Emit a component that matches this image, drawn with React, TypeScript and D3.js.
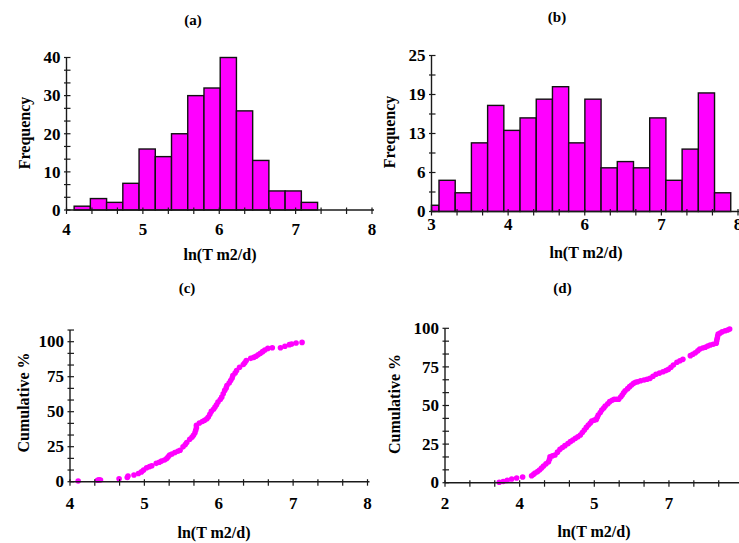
import React from "react";
import * as d3 from "d3";

// ---------- data ----------
// (a) histogram
const countsA = [1, 3, 2, 7, 16, 14, 20, 30, 32, 40, 26, 13, 5, 5, 2];
const binStartA = 4.1;
const binWidthA = 0.2125;
// (b) histogram
const countsB = [1, 5, 3, 11, 17, 13, 15, 18, 20, 11, 18, 7, 8, 7, 15, 5, 10, 19, 3];
const binStartB = 2.858;
const binWidthB = 0.2644;

// tick values & labels
const xTicksA = [4, 5, 6, 7, 8];
const xLabelsA = ["4", "5", "6", "7", "8"];
const yTicksA = [0, 10, 20, 30, 40];
const yLabelsA = ["0", "10", "20", "30", "40"];
const xTicksB = [3, 4.25, 5.5, 6.75, 8];
const xLabelsB = ["3", "4", "6", "7", "8"];
const yTicksB = [0, 6.25, 12.5, 18.75, 25];
const yLabelsB = ["0", "6", "13", "19", "25"];
const xTicksC = [4, 5, 6, 7, 8];
const xLabelsC = ["4", "5", "6", "7", "8"];
const yTicksC = [0, 25, 50, 75, 100];
const yLabelsC = ["0", "25", "50", "75", "100"];
const xTicksD = [2, 3.5, 5, 6.5, 8];
const xLabelsD = ["2", "4", "5", "7"];
const yTicksD = [0, 25, 50, 75, 100];
const yLabelsD = ["0", "25", "50", "75", "100"];

// (c) cumulative curve
const cumXC = [4.11, 4.37, 4.39, 4.41, 4.66, 4.77, 4.78, 4.86, 4.92, 4.96, 4.99, 5.03, 5.07, 5.1, 5.16, 5.2, 5.23, 5.27, 5.3, 5.32, 5.34, 5.37, 5.41, 5.45, 5.48, 5.52, 5.55, 5.57, 5.61, 5.64, 5.66, 5.68, 5.69, 5.7, 5.7, 5.74, 5.78, 5.81, 5.84, 5.86, 5.88, 5.9, 5.93, 5.95, 5.97, 5.99, 6.02, 6.04, 6.06, 6.08, 6.1, 6.11, 6.14, 6.16, 6.18, 6.19, 6.22, 6.24, 6.28, 6.33, 6.35, 6.37, 6.43, 6.47, 6.5, 6.53, 6.56, 6.59, 6.62, 6.66, 6.72, 6.83, 6.89, 6.95, 6.98, 7.04, 7.12];
const cumYC = [0.5, 1.0, 1.4, 1.2, 2.1, 3.0, 4.0, 4.8, 5.9, 7.0, 8.3, 10.0, 10.8, 11.4, 13.1, 13.9, 14.7, 15.5, 16.6, 17.8, 19.0, 19.8, 20.9, 21.8, 22.5, 24.9, 26.5, 28.0, 30.3, 31.8, 33.2, 35.0, 36.8, 38.6, 40.3, 41.9, 43.0, 43.9, 45.0, 46.2, 48.2, 50.2, 51.8, 53.3, 55.0, 56.9, 58.7, 60.4, 62.8, 65.2, 67.0, 68.7, 70.5, 72.3, 74.0, 75.8, 77.6, 79.4, 81.7, 83.7, 85.0, 86.5, 88.1, 88.8, 89.6, 90.6, 91.7, 92.9, 94.1, 95.2, 95.7, 95.7, 96.7, 97.9, 98.4, 99.1, 99.5];

// (d) cumulative curve
const cumXD = [3.09, 3.17, 3.25, 3.34, 3.44, 3.56, 3.74, 3.78, 3.81, 3.86, 3.9, 3.94, 3.98, 4.03, 4.08, 4.1, 4.11, 4.16, 4.21, 4.26, 4.31, 4.36, 4.41, 4.47, 4.52, 4.57, 4.62, 4.67, 4.72, 4.76, 4.8, 4.84, 4.88, 4.92, 4.95, 5.0, 5.04, 5.06, 5.08, 5.12, 5.15, 5.19, 5.22, 5.27, 5.31, 5.36, 5.4, 5.45, 5.49, 5.53, 5.56, 5.59, 5.62, 5.67, 5.71, 5.75, 5.79, 5.83, 5.87, 5.93, 6.0, 6.06, 6.12, 6.18, 6.24, 6.31, 6.38, 6.44, 6.49, 6.54, 6.59, 6.66, 6.72, 6.78, 6.93, 6.98, 7.03, 7.08, 7.12, 7.18, 7.23, 7.28, 7.33, 7.39, 7.45, 7.46, 7.47, 7.48, 7.49, 7.53, 7.57, 7.63, 7.68, 7.72];
const cumYD = [0.3, 0.8, 1.5, 2.4, 3.0, 3.7, 4.5, 5.4, 6.3, 7.2, 8.2, 9.5, 10.8, 12.2, 13.6, 15.2, 16.8, 17.4, 17.9, 19.8, 21.6, 22.8, 24.0, 25.3, 26.6, 27.7, 28.8, 29.8, 30.9, 32.5, 34.1, 35.8, 37.4, 38.7, 40.0, 40.5, 41.0, 42.4, 43.8, 45.5, 47.1, 48.4, 49.7, 51.1, 52.5, 53.4, 54.0, 54.0, 54.0, 55.5, 56.8, 58.2, 59.6, 60.9, 62.2, 63.3, 64.4, 65.0, 65.4, 66.0, 66.5, 67.0, 67.6, 68.9, 70.2, 71.0, 71.9, 72.6, 73.4, 74.8, 76.2, 78.0, 79.0, 79.9, 82.3, 83.2, 84.2, 85.4, 86.6, 87.2, 87.7, 88.5, 89.2, 89.7, 90.3, 92.0, 93.5, 95.0, 96.3, 97.0, 97.8, 98.4, 98.9, 99.5];

// ---------- drawing ----------
const FONT = "'Liberation Serif', 'Times New Roman', Times, serif";
const MAGENTA = "#ff00ff";
const AXIS = "#1a1a1a";

function minorTicks(major: number[], sub: number, extra = 0): number[] {
  const out: number[] = [];
  for (let i = 0; i < major.length - 1; i++) {
    const step = (major[i + 1] - major[i]) / sub;
    for (let k = 0; k < sub; k++) out.push(major[i] + k * step);
  }
  const last = major[major.length - 1];
  out.push(last);
  const lastStep = (major[major.length - 1] - major[major.length - 2]) / sub;
  for (let k = 1; k <= extra; k++) out.push(last + k * lastStep);
  return out;
}

type AxesProps = {
  x: d3.ScaleLinear<number, number>;
  y: d3.ScaleLinear<number, number>;
  xTicks: number[];
  xLabels: string[];
  yTicks: number[];
  yLabels: string[];
  xSub: number;
  ySub: number;
  yExtra?: number;
  xLabelDy: number;
};

function Axes({ x, y, xTicks, xLabels, yTicks, yLabels, xSub, ySub, yExtra = 0, xLabelDy }: AxesProps) {
  const x0 = x.range()[0];
  const y0 = y.range()[0];
  const xMinor = minorTicks(xTicks, xSub);
  const yMinor = minorTicks(yTicks, ySub, yExtra);
  const yTop = y(yMinor[yMinor.length - 1]);
  const xEnd = x(xTicks[xTicks.length - 1]);
  return (
    <g>
      <line x1={x0} x2={xEnd + 2} y1={y0} y2={y0} stroke={AXIS} strokeWidth={1.4} />
      <line x1={x0} x2={x0} y1={y0} y2={yTop} stroke={AXIS} strokeWidth={1.4} />
      {xMinor.map((v, i) => (
        <line key={"xt" + i} x1={x(v)} x2={x(v)} y1={y0 - 2.5} y2={y0 + 4} stroke={AXIS} strokeWidth={1.2} />
      ))}
      {yMinor.map((v, i) => (
        <line key={"yt" + i} x1={x0 - 2.5} x2={x0 + 4} y1={y(v)} y2={y(v)} stroke={AXIS} strokeWidth={1.2} />
      ))}
      {xTicks.map((v, i) =>
        xLabels[i] === undefined ? null : (
          <text key={"xl" + i} x={x(v)} y={y0 + xLabelDy} textAnchor="middle" fontSize={17} fontWeight="bold" fontFamily={FONT}>
            {xLabels[i]}
          </text>
        )
      )}
      {yTicks.map((v, i) => (
        <text key={"yl" + i} x={x0 - 6} y={y(v)} dy="0.34em" textAnchor="end" fontSize={17} fontWeight="bold" fontFamily={FONT}>
          {yLabels[i]}
        </text>
      ))}
    </g>
  );
}

function Titles({ title, tx, ty, xTitle, xtx, xty, yTitle, ytx, yty }: any) {
  return (
    <g fontFamily={FONT} fontWeight="bold">
      <text x={tx} y={ty} dy="0.34em" textAnchor="middle" fontSize={15}>{title}</text>
      <text x={xtx} y={xty} dy="0.34em" textAnchor="middle" fontSize={16}>{xTitle}</text>
      <text transform={`translate(${ytx},${yty}) rotate(-90)`} dy="0.34em" textAnchor="middle" fontSize={16}>{yTitle}</text>
    </g>
  );
}

function Histogram({ counts, start, width, x, y }: any) {
  const [dmin] = x.domain();
  return (
    <g>
      {counts.map((c: number, i: number) => {
        const a = Math.max(start + i * width, dmin);
        const b = start + (i + 1) * width;
        return (
          <rect key={i} x={x(a)} y={y(c)} width={x(b) - x(a)} height={y(0) - y(c)} fill={MAGENTA} stroke="#111" strokeWidth={1.4} />
        );
      })}
    </g>
  );
}

function Dots({ xs, ys, x, y }: any) {
  return (
    <g>
      {xs.map((v: number, i: number) => (
        <circle key={i} cx={x(v)} cy={y(ys[i])} r={2.8} fill={MAGENTA} />
      ))}
    </g>
  );
}

export default function App() {
  const xA = d3.scaleLinear().domain([4, 8]).range([66.5, 372]);
  const yA = d3.scaleLinear().domain([0, 40]).range([210, 57.5]);
  const xB = d3.scaleLinear().domain([3, 8]).range([431.5, 738]);
  const yB = d3.scaleLinear().domain([0, 25]).range([211.5, 55.5]);
  const xC = d3.scaleLinear().domain([4, 8]).range([70, 367.5]);
  const yC = d3.scaleLinear().domain([0, 100]).range([481.7, 341.7]);
  const xD = d3.scaleLinear().domain([2, 8]).range([445, 743.6]);
  const yD = d3.scaleLinear().domain([0, 100]).range([482.7, 328.3]);

  return (
    <svg width={739} height={543} style={{ position: "absolute", left: 0, top: 0, background: "#fff" }}>
      <rect x={0} y={0} width={739} height={543} fill="#fff" />
      {/* (a) */}
      <Histogram counts={countsA} start={binStartA} width={binWidthA} x={xA} y={yA} />
      <Axes x={xA} y={yA} xTicks={xTicksA} xLabels={xLabelsA} yTicks={yTicksA} yLabels={yLabelsA} xSub={3} ySub={3} xLabelDy={25} />
      <Titles title="(a)" tx={193} ty={20} xTitle="ln(T m2/d)" xtx={220} xty={255} yTitle="Frequency" ytx={25} yty={133} />

      {/* (b) */}
      <Histogram counts={countsB} start={binStartB} width={binWidthB} x={xB} y={yB} />
      <Axes x={xB} y={yB} xTicks={xTicksB} xLabels={xLabelsB} yTicks={yTicksB} yLabels={yLabelsB} xSub={3} ySub={2} xLabelDy={18} />
      <Titles title="(b)" tx={557} ty={17} xTitle="ln(T m2/d)" xtx={586} xty={253} yTitle="Frequency" ytx={390} yty={132} />

      {/* (c) */}
      <Dots xs={cumXC} ys={cumYC} x={xC} y={yC} />
      <Axes x={xC} y={yC} xTicks={xTicksC} xLabels={xLabelsC} yTicks={yTicksC} yLabels={yLabelsC} xSub={3} ySub={3} yExtra={1} xLabelDy={27} />
      <Titles title="(c)" tx={187} ty={287.5} xTitle="ln(T m2/d)" xtx={214} xty={533} yTitle="Cumulative %" ytx={23.5} yty={402.5} />

      {/* (d) */}
      <Dots xs={cumXD} ys={cumYD} x={xD} y={yD} />
      <Axes x={xD} y={yD} xTicks={xTicksD} xLabels={xLabelsD} yTicks={yTicksD} yLabels={yLabelsD} xSub={3} ySub={3} xLabelDy={26.5} />
      <Titles title="(d)" tx={562.5} ty={288} xTitle="ln(T m2/d)" xtx={594} xty={531.5} yTitle="Cumulative %" ytx={395} yty={404} />
    </svg>
  );
}
